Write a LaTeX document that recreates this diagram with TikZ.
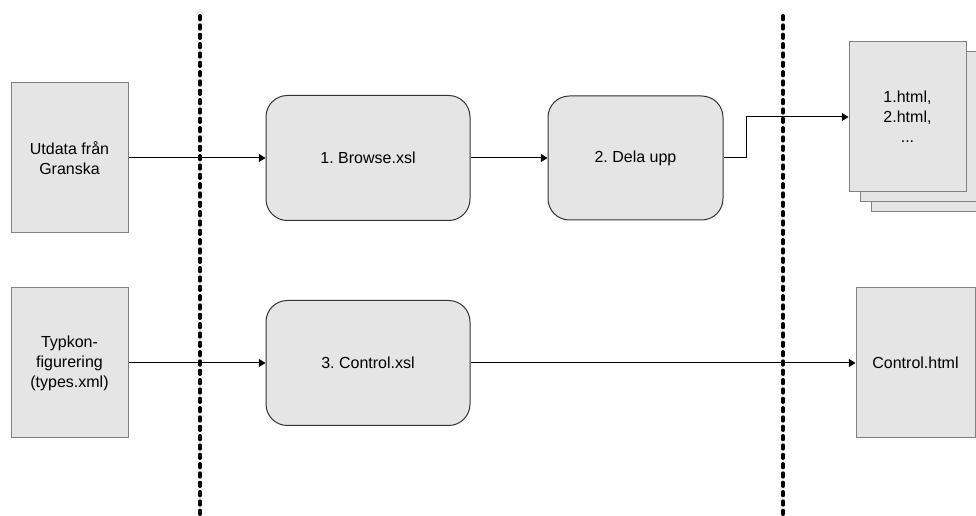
\documentclass[tikz,border=0pt]{standalone}
\usepackage{fontspec}
\setmainfont{Liberation Sans}
\usetikzlibrary{arrows.meta}
\frenchspacing
\begin{document}
\begin{tikzpicture}[x=0.75pt,y=-0.75pt,
  font=\fontsize{12pt}{15pt}\selectfont,
  doc/.style={draw=black!50,fill=black!10,line width=0.75pt,inner sep=0pt,align=center},
  proc/.style={draw=black!80,fill=black!10,line width=0.75pt,inner sep=0pt,align=center,rounded corners=16pt},
  arr/.style={line width=0.75pt,-{Triangle[length=5pt,width=6pt]}},
  sep/.style={line width=3pt,dash pattern=on 2.5pt off 4.5pt,line cap=round}]
\useasboundingbox (0,0) rectangle (976,516);
\clip (0,0) rectangle (976,516);
% separators
\coordinate (s1t) at (200,16); \coordinate (s1b) at (200,520);
\coordinate (s2t) at (783,16); \coordinate (s2b) at (783,520);
\draw[sep] (s1t) -- (s1b);
\draw[sep] (s2t) -- (s2b);
% inputs
\node[doc,minimum width={117*0.75pt},minimum height={150*0.75pt}] (in1) at (69.5,158) {Utdata från\\Granska};
\node[doc,minimum width={117*0.75pt},minimum height={150*0.75pt}] (in2) at (69.5,363) {Typkon-\\figurering\\(types.xml)};
% processes
\node[proc,minimum width={204*0.75pt},minimum height={125*0.75pt}] (browse) at (368,158) {1. Browse.xsl};
\node[proc,minimum width={175*0.75pt},minimum height={124*0.75pt}] (dela) at (635.5,158) {2. Dela upp};
\node[proc,minimum width={204*0.75pt},minimum height={125*0.75pt}] (ctrl) at (368,363) {3. Control.xsl};
% output stack
\node[doc,minimum width={117*0.75pt},minimum height={150*0.75pt}] (back2) at (929.5,137) {};
\node[doc,minimum width={117*0.75pt},minimum height={150*0.75pt}] (back1) at (918.5,127) {};
\node[doc,minimum width={117*0.75pt},minimum height={150*0.75pt}] (stack) at (907.5,117) {1.html,\\2.html,\\...};
\node[doc,minimum width={119*0.75pt},minimum height={150*0.75pt}] (out2) at (915.5,363) {Control.html};
% connectors
\draw[arr] (in1.east) -- (browse.west);
\draw[arr] (browse.east) -- (dela.west);
\draw[arr] (dela.east) -- ++(23,0) |- (stack.west);
\draw[arr] (in2.east) -- (ctrl.west);
\draw[arr] (ctrl.east) -- (out2.west);
\end{tikzpicture}
\end{document}
